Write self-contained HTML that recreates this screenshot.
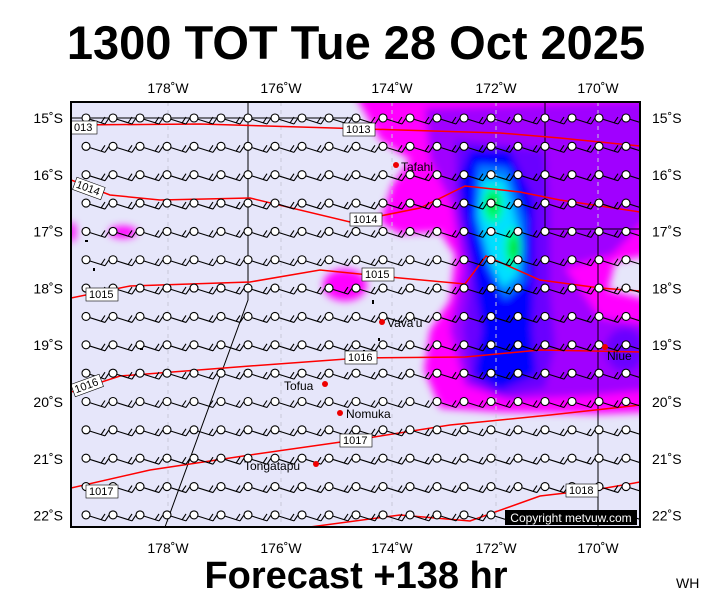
<!DOCTYPE html>
<html><head><meta charset="utf-8"><style>
body{margin:0;background:#fff;width:711px;height:600px;overflow:hidden;font-family:"Liberation Sans",sans-serif}
</style></head><body>
<svg id="s" width="711" height="600" xmlns="http://www.w3.org/2000/svg" font-family="Liberation Sans, sans-serif">
<defs>
<clipPath id="pc"><rect x="71" y="102" width="569" height="425"/></clipPath>
<filter id="bl"><feGaussianBlur stdDeviation="4"/></filter>
</defs>
<text x="356" y="59" font-size="47" font-weight="bold" text-anchor="middle">1300 TOT Tue 28 Oct 2025</text>
<rect x="71" y="102" width="569" height="425" fill="#e6e6fa"/>
<g clip-path="url(#pc)">
<g filter="url(#bl)">
<path fill="#ff00ff" d="M355,95 L650,95 L650,255 L615,262 L608,290 L650,300 L650,412 L600,414 L500,412 L440,408 L424,370 L430,330 L450,300 L455,255 L440,232 L400,234 L380,222 L392,185 L410,160 L380,140 Z"/>
<ellipse cx="345" cy="285" rx="22" ry="16" fill="#ff00ff"/>
<ellipse cx="123" cy="232" rx="14" ry="6" fill="#ff00ff"/>
<ellipse cx="72" cy="232" rx="4" ry="10" fill="#ff00ff"/>
<path fill="#a000ff" d="M425,108 L650,100 L650,215 L612,255 L565,268 L600,318 L650,325 L650,390 L600,395 L510,400 L465,385 L450,330 L462,270 L452,205 L430,160 Z"/>
<path fill="#6a00ff" d="M455,140 L545,150 L550,210 L550,290 L555,345 L545,388 L500,396 L470,380 L463,330 L470,270 L457,205 Z"/>
<ellipse cx="625" cy="350" rx="20" ry="22" fill="#6a00ff"/>
<path fill="#0000ff" d="M470,150 L510,150 L534,200 L534,270 L532,330 L536,374 L500,390 L474,374 L482,330 L474,280 L465,230 L458,180 Z"/>
<path fill="#0080ff" d="M478,165 L508,168 L524,220 L524,282 L505,300 L488,268 L475,218 Z"/>
<path fill="#00e0ff" d="M482,178 L505,180 L518,230 L518,275 L503,288 L490,262 L478,215 Z"/>
<ellipse cx="493" cy="205" rx="10" ry="18" fill="#00ff80"/>
<ellipse cx="513" cy="248" rx="8" ry="20" fill="#00ff80"/>
<ellipse cx="493" cy="203" rx="5" ry="9" fill="#00e000"/>
<ellipse cx="514" cy="248" rx="4" ry="10" fill="#00e000"/>
</g>
<g stroke="#c8c8d8" stroke-width="1" stroke-dasharray="4,4">
<line x1="168" y1="102" x2="168" y2="527"/><line x1="281" y1="102" x2="281" y2="527"/><line x1="392" y1="102" x2="392" y2="527"/><line x1="496" y1="102" x2="496" y2="527"/><line x1="598" y1="102" x2="598" y2="527"/>
</g>
<g fill="none" stroke="#000" stroke-width="1">
<path d="M248,102 L248,300 L165,527"/>
<path d="M545,102 L545,229 L640,229 M598,229 L598,527"/>
<path d="M71,118 L360,118"/>
</g>
<g fill="none" stroke="#f00" stroke-width="1.5">
<path d="M71,125 L200,124 L300,127 L400,130 L500,133 L560,138 L640,146"/>
<path d="M71,180 L110,195 L160,200 L250,198 L350,222 L420,208 L465,186 L520,192 L560,200 L640,212"/>
<path d="M71,298 L130,286 L250,282 L320,270 L400,278 L465,284 L486,256 L540,280 L600,288 L640,291"/>
<path d="M71,392 L120,376 L250,366 L360,358 L465,357 L540,350 L640,352"/>
<path d="M71,488 L150,470 L250,455 L355,440 L450,425 L550,415 L640,405"/>
<path d="M310,527 L400,515 L470,521 L540,496 L600,489 L640,482"/>
</g>
<g id="barbs" stroke="#000" stroke-width="1.1" fill="#fff"></g>
<g fill="#000">
<rect x="85" y="240" width="3" height="2"/><rect x="93" y="268" width="2" height="3"/><rect x="372" y="300" width="2" height="4"/><rect x="378" y="338" width="2" height="3"/><rect x="363" y="350" width="2" height="3"/><rect x="140" y="348" width="3" height="2"/>
</g>
<g font-size="12" fill="#000">
<circle cx="396" cy="165" r="3" fill="#e00"/><text x="401" y="171">Tafahi</text>
<circle cx="382" cy="322" r="3" fill="#e00"/><text x="387" y="327">Vava'u</text>
<circle cx="325" cy="384" r="3" fill="#e00"/><text x="284" y="390">Tofua</text>
<circle cx="340" cy="413" r="3" fill="#e00"/><text x="346" y="418">Nomuka</text>
<circle cx="316" cy="464" r="3" fill="#e00"/><text x="244" y="470">Tongatapu</text>
<circle cx="605" cy="347" r="3" fill="#e00"/><text x="607" y="360">Niue</text>
</g>
<g font-size="11" fill="#000">
<rect x="71" y="121" width="26" height="13" fill="#fff" stroke="#000" stroke-width=".6"/><text x="74" y="131">013</text>
<rect x="343" y="123" width="32" height="13" fill="#fff" stroke="#000" stroke-width=".6"/><text x="346" y="133">1013</text>
<rect x="74" y="182" width="30" height="13" fill="#fff" stroke="#000" stroke-width=".6" transform="rotate(20 89 188)"/><text x="76" y="192" transform="rotate(20 89 188)">1014</text>
<rect x="350" y="213" width="32" height="13" fill="#fff" stroke="#000" stroke-width=".6"/><text x="353" y="223">1014</text>
<rect x="86" y="288" width="32" height="13" fill="#fff" stroke="#000" stroke-width=".6"/><text x="89" y="298">1015</text>
<rect x="362" y="268" width="32" height="13" fill="#fff" stroke="#000" stroke-width=".6"/><text x="365" y="278">1015</text>
<rect x="72" y="379" width="30" height="13" fill="#fff" stroke="#000" stroke-width=".6" transform="rotate(-20 87 385)"/><text x="74" y="389" transform="rotate(-20 87 385)">1016</text>
<rect x="345" y="351" width="32" height="13" fill="#fff" stroke="#000" stroke-width=".6"/><text x="348" y="361">1016</text>
<rect x="86" y="485" width="32" height="13" fill="#fff" stroke="#000" stroke-width=".6"/><text x="89" y="495">1017</text>
<rect x="340" y="434" width="32" height="13" fill="#fff" stroke="#000" stroke-width=".6"/><text x="343" y="444">1017</text>
<rect x="566" y="484" width="32" height="13" fill="#fff" stroke="#000" stroke-width=".6"/><text x="569" y="494">1018</text>
</g>
<rect x="505" y="510" width="132" height="15" fill="#000"/>
<text x="571" y="522" font-size="12" fill="#fff" text-anchor="middle">Copyright metvuw.com</text>
</g>
<rect x="71" y="102" width="569" height="425" fill="none" stroke="#000" stroke-width="2"/>
<g font-size="14" fill="#000" text-anchor="middle">
<text x="168" y="93">178˚W</text><text x="281" y="93">176˚W</text><text x="392" y="93">174˚W</text><text x="496" y="93">172˚W</text><text x="598" y="93">170˚W</text>
<text x="168" y="553">178˚W</text><text x="281" y="553">176˚W</text><text x="392" y="553">174˚W</text><text x="496" y="553">172˚W</text><text x="598" y="553">170˚W</text>
</g>
<g id="lat" font-size="14" fill="#000"></g>
<text x="356" y="588" font-size="38" font-weight="bold" text-anchor="middle">Forecast +138 hr</text>
<text x="676" y="588" font-size="14">WH</text>
</svg>
<script>
var b=document.getElementById("barbs"),h="";
for(var r=0;r<15;r++){var y=118+r*28.35;for(var c=0;c<21;c++){var x=86+c*27;
h+='<path d="M'+x+','+y+' L'+(x+19)+','+(y+6)+' M'+(x+15)+','+(y+5)+' L'+(x+19)+','+(y-1)+' M'+(x+19)+','+(y+6)+' L'+(x+23)+','+y+'" fill="none"/>';
h+='<circle cx="'+x+'" cy="'+y+'" r="4"/>';}}
b.innerHTML=h;
var l=document.getElementById("lat"),t="";
for(var i=0;i<8;i++){var yy=118+i*56.8;t+='<text x="63" y="'+(yy+5)+'" text-anchor="end">'+(15+i)+'˚S</text><text x="652" y="'+(yy+5)+'">'+(15+i)+'˚S</text>';}
l.innerHTML=t;
</script>
</body></html>
